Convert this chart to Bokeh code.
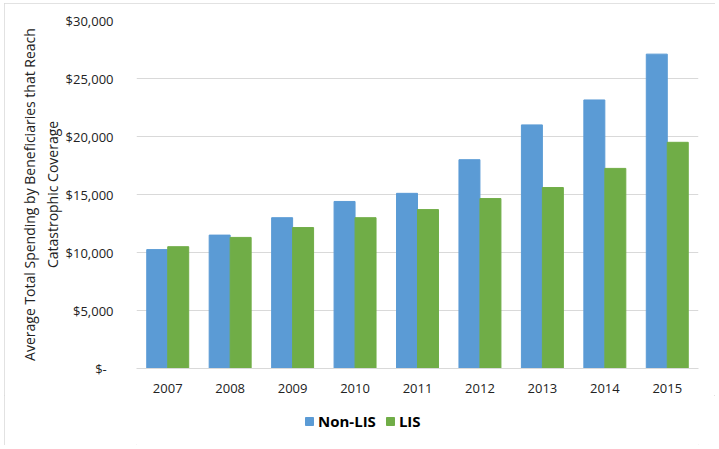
from bokeh.plotting import figure
from bokeh.layouts import column
from bokeh.models import ColumnDataSource, FactorRange, Range1d, Legend, LegendItem, CustomJSTickFormatter, FixedTicker
from bokeh.transform import dodge
from bokeh.embed import file_html
from bokeh.resources import INLINE

years = ["2007", "2008", "2009", "2010", "2011", "2012", "2013", "2014", "2015"]
non_lis = [10250, 11500, 13000, 14400, 15100, 18000, 21000, 23150, 27100]
lis = [10500, 11300, 12150, 13000, 13700, 14650, 15600, 17250, 19500]
y_ticks = [0, 5000, 10000, 15000, 20000, 25000, 30000]
series_names = ["Non-LIS", "LIS"]
y_title = "Average Total Spending by Beneficiaries that Reach\nCatastrophic Coverage"

BLUE = "#5B9BD5"
GREEN = "#70AD47"
GRID = "#D9D9D9"
TXT = "#222222"
FONT = "Open Sans"

src = ColumnDataSource(dict(year=years, nonlis=non_lis, lis=lis))

p = figure(x_range=FactorRange(*years, range_padding=0), y_range=Range1d(0, 30000),
           width=711, height=392, output_backend="svg", toolbar_location=None,
           min_border_left=132, min_border_right=17, min_border_top=17, min_border_bottom=27)
p.outline_line_color = None

r1 = p.vbar(x=dodge("year", -0.168, range=p.x_range), top="nonlis", width=0.336, source=src,
            fill_color=BLUE, line_color=BLUE)
r2 = p.vbar(x=dodge("year", 0.168, range=p.x_range), top="lis", width=0.336, source=src,
            fill_color=GREEN, line_color=GREEN)

p.xgrid.grid_line_color = None
p.ygrid.grid_line_color = GRID
p.ygrid.grid_line_width = 1

p.yaxis.ticker = FixedTicker(ticks=y_ticks)
p.yaxis.formatter = CustomJSTickFormatter(code="""
    if (tick == 0) { return "$-\u00a0\u00a0"; }
    return "$" + tick.toString().replace(/\\B(?=(\\d{3})+(?!\\d))/g, ",");
""")
p.yaxis.axis_line_color = None
p.yaxis.major_tick_line_color = None
p.yaxis.minor_tick_line_color = None
p.yaxis.major_label_standoff = 17
p.yaxis.major_label_text_font = FONT
p.yaxis.major_label_text_font_size = "13px"
p.yaxis.major_label_text_color = TXT
p.yaxis.axis_label = y_title
p.yaxis.axis_label_text_font = FONT
p.yaxis.axis_label_text_font_size = "14px"
p.yaxis.axis_label_text_font_style = "normal"
p.yaxis.axis_label_text_color = TXT
p.yaxis.axis_label_standoff = 1

p.xaxis.axis_line_color = GRID
p.xaxis.major_tick_line_color = None
p.xaxis.minor_tick_line_color = None
p.xaxis.major_label_standoff = 9
p.xaxis.major_label_text_font = FONT
p.xaxis.major_label_text_font_size = "13px"
p.xaxis.major_label_text_color = TXT

# legend strip below the chart (its renderers are hidden; only the legend shows)
leg = figure(width=711, height=50, x_range=FactorRange(*years, range_padding=0), y_range=Range1d(0, 30000),
             output_backend="svg", toolbar_location=None,
             x_axis_location=None, y_axis_location=None,
             min_border=0, min_border_left=0, min_border_right=0, min_border_top=0, min_border_bottom=0)
leg.outline_line_color = None
leg.grid.visible = False
lr1 = leg.vbar(x="year", top="nonlis", width=0.3, source=src, fill_color=BLUE, line_color=BLUE, visible=False)
lr2 = leg.vbar(x="year", top="lis", width=0.3, source=src, fill_color=GREEN, line_color=GREEN, visible=False)

legend = Legend(items=[LegendItem(label=series_names[0], renderers=[lr1]),
                       LegendItem(label=series_names[1], renderers=[lr2])],
                location=(168, 14), orientation="horizontal",
                glyph_width=10, glyph_height=10, label_height=16, label_standoff=4, spacing=9,
                padding=0, margin=0, border_line_color=None, background_fill_alpha=0,
                inactive_fill_alpha=0,
                label_text_font=FONT, label_text_font_size="15px", label_text_font_style="bold",
                label_text_color="#000000")
leg.add_layout(legend, "center")

layout = column(p, leg, spacing=0)
layout.styles = {"outline": "1px solid #D9D9D9", "outline-offset": "-1px",
                 "margin-left": "4px", "margin-top": "3px"}

open("out.html", "w").write(file_html(layout, INLINE))
